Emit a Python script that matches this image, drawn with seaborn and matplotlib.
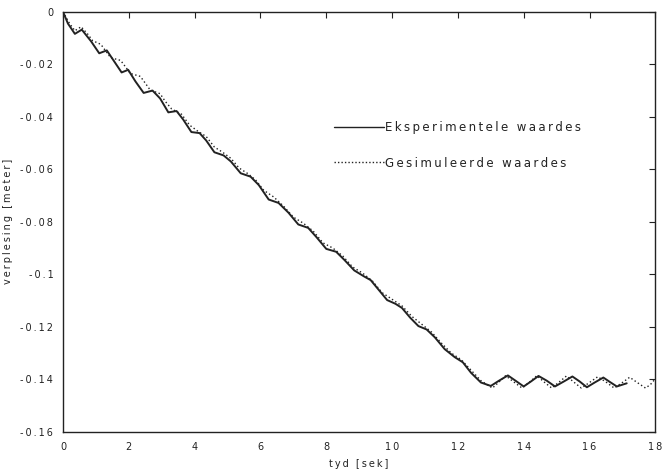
import matplotlib
matplotlib.use("Agg")
import matplotlib.pyplot as plt
import seaborn as sns
import pandas as pd
from matplotlib.lines import Line2D

# ---- data ----
t_exp = [0, 0.15, 0.36, 0.57, 0.85, 1.10, 1.33, 1.55, 1.78, 1.98, 2.20, 2.45, 2.72, 2.95,
         3.20, 3.45, 3.65, 3.90, 4.15, 4.35, 4.60, 4.88, 5.10, 5.40, 5.70, 5.95, 6.25,
         6.55, 6.85, 7.15, 7.45, 7.70, 8.00, 8.30, 8.55, 8.85, 9.15, 9.35, 9.60, 9.85,
         10.10, 10.30, 10.55, 10.80, 11.05, 11.30, 11.60, 11.90, 12.15, 12.40, 12.70,
         13.00, 13.25, 13.52, 13.75, 14.00, 14.22, 14.45, 14.70, 14.95, 15.22, 15.48,
         15.70, 15.92, 16.17, 16.42, 16.62, 16.83, 17.13]
y_exp = [0, -0.0045, -0.0084, -0.0068, -0.0112, -0.0158, -0.0147, -0.0188, -0.0231, -0.0221,
         -0.0265, -0.0309, -0.0300, -0.0330, -0.0383, -0.0378, -0.0410, -0.0458, -0.0462,
         -0.0490, -0.0535, -0.0547, -0.0570, -0.0615, -0.0628, -0.0660, -0.0715, -0.0728,
         -0.0765, -0.0810, -0.0823, -0.0858, -0.0903, -0.0914, -0.0945, -0.0985, -0.1008,
         -0.1022, -0.1060, -0.1098, -0.1112, -0.1128, -0.1165, -0.1197, -0.1210, -0.1240,
         -0.1285, -0.1315, -0.1335, -0.1375, -0.1412, -0.1425, -0.1405, -0.1385, -0.1405,
         -0.1427, -0.1408, -0.1387, -0.1405, -0.1427, -0.1408, -0.1389, -0.1408, -0.1430,
         -0.1411, -0.1393, -0.1410, -0.1427, -0.1415]

t_sim = [0, 0.20, 0.36, 0.55, 0.75, 0.90, 1.15, 1.30, 1.45, 1.75, 1.90, 2.05, 2.35, 2.50,
         2.65, 2.95, 3.10, 3.30, 3.60, 3.85, 4.10, 4.35, 4.60, 4.85, 5.10, 5.35, 5.60,
         5.85, 6.10, 6.40, 6.70, 7.00, 7.30, 7.60, 7.90, 8.20, 8.50, 8.80, 9.10, 9.40,
         9.70, 10.00, 10.30, 10.60, 10.90, 11.20, 11.50, 11.80, 12.10, 12.40, 12.70,
         13.05, 13.25, 13.45, 13.70, 13.95, 14.18, 14.40, 14.62, 14.85, 15.08, 15.30,
         15.52, 15.75, 16.00, 16.25, 16.50, 16.75, 17.00, 17.22, 17.45, 17.70, 17.85, 17.97]
y_sim = [0, -0.0045, -0.0072, -0.0057, -0.0085, -0.0110, -0.0124, -0.0150, -0.0175, -0.0185,
         -0.0210, -0.0235, -0.0246, -0.0272, -0.0298, -0.0312, -0.0340, -0.0370, -0.0390,
         -0.0432, -0.0455, -0.0475, -0.0515, -0.0535, -0.0558, -0.0595, -0.0615, -0.0640,
         -0.0680, -0.0705, -0.0740, -0.0782, -0.0805, -0.0835, -0.0880, -0.0900, -0.0930,
         -0.0972, -0.0995, -0.1025, -0.1070, -0.1095, -0.1120, -0.1160, -0.1190, -0.1220,
         -0.1262, -0.1300, -0.1325, -0.1365, -0.1405, -0.1433, -0.1410, -0.1386, -0.1410,
         -0.1433, -0.1410, -0.1386, -0.1410, -0.1433, -0.1410, -0.1387, -0.1410, -0.1433,
         -0.1412, -0.1390, -0.1410, -0.1433, -0.1412, -0.1392, -0.1412, -0.1433, -0.1420,
         -0.1402]

x_ticks = [0, 2, 4, 6, 8, 10, 12, 14, 16, 18]
y_ticks = [0, -0.02, -0.04, -0.06, -0.08, -0.1, -0.12, -0.14, -0.16]
label_exp = "Eksperimentele waardes"
label_sim = "Gesimuleerde waardes"
x_label = "tyd [sek]"
y_label = "verplesing [meter]"

# ---- figure ----
sns.set_style("white")
plt.rcParams['font.family'] = ['DejaVu Sans']

fig = plt.figure(figsize=(6.67, 4.72), dpi=100)
ax = fig.add_axes([0.0945, 0.085, 0.888, 0.89])

df_exp = pd.DataFrame({"t": t_exp, "y": y_exp})
df_sim = pd.DataFrame({"t": t_sim, "y": y_sim})
ink = "#222222"
sns.lineplot(data=df_exp, x="t", y="y", ax=ax, color=ink, lw=1.4, sort=False)
sns.lineplot(data=df_sim, x="t", y="y", ax=ax, color=ink, lw=1.0, ls=(0, (1, 1.8)), sort=False)

ax.set_xlim(0, 18)
ax.set_ylim(-0.16, 0)

def spaced(s):
    return "\u2009".join(s)

ax.set_xticks(x_ticks)
ax.set_xticklabels([spaced(f"{v:g}") for v in x_ticks])
ax.set_yticks(y_ticks)
ax.set_yticklabels([spaced("0" if v == 0 else f"{v:g}") for v in y_ticks])
ax.tick_params(direction="in", length=4, width=0.8, top=True, right=True,
               labelsize=7, colors=ink, pad=7)

for s in ax.spines.values():
    s.set_color(ink)
    s.set_linewidth(1.0)

ax.set_xlabel(spaced(x_label), fontsize=7, color=ink, labelpad=5)
ax.set_ylabel(spaced(y_label), fontsize=7, color=ink, labelpad=5)

handles = [Line2D([], [], color=ink, lw=1.0),
           Line2D([], [], color=ink, lw=1.0, ls=(0, (1, 1.5)))]
leg = ax.legend(handles, [spaced(label_exp), spaced(label_sim)],
                loc="upper left", bbox_to_anchor=(0.44, 0.765), frameon=False,
                handlelength=4.2, handletextpad=0.1, labelspacing=1.9,
                prop={"size": 8.5})
for txt in leg.get_texts():
    txt.set_color(ink)

fig.savefig("out.png", dpi=100, facecolor="white")
